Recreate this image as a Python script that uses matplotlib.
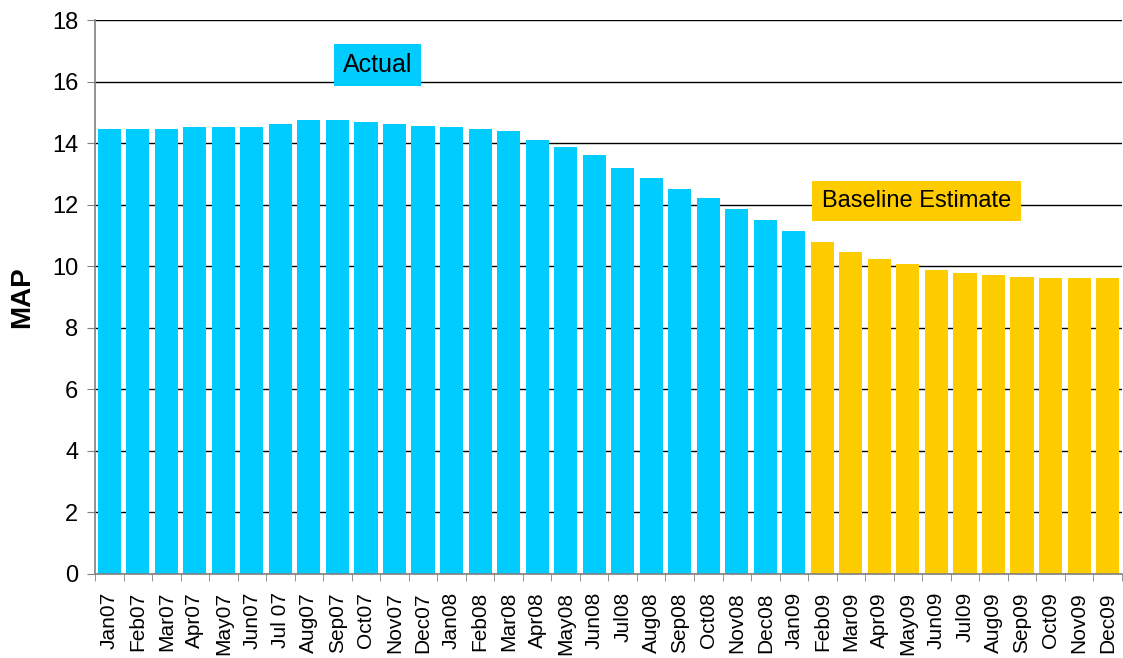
import matplotlib
matplotlib.use("Agg")
import matplotlib.pyplot as plt
import numpy as np

plt.rcParams["font.family"] = ["Liberation Sans", "DejaVu Sans"]

months = ["Jan07", "Feb07", "Mar07", "Apr07", "May07", "Jun07", "Jul 07", "Aug07",
          "Sep07", "Oct07", "Nov07", "Dec07", "Jan08", "Feb08", "Mar08", "Apr08",
          "May08", "Jun08", "Jul08", "Aug08", "Sep08", "Oct08", "Nov08", "Dec08",
          "Jan09", "Feb09", "Mar09", "Apr09", "May09", "Jun09", "Jul09", "Aug09",
          "Sep09", "Oct09", "Nov09", "Dec09"]
actual = [14.45, 14.45, 14.45, 14.52, 14.52, 14.52, 14.61, 14.74, 14.74, 14.68,
          14.61, 14.55, 14.52, 14.45, 14.39, 14.10, 13.88, 13.62, 13.20, 12.88,
          12.51, 12.22, 11.85, 11.49, 11.16]
baseline = [10.80, 10.46, 10.24, 10.08, 9.88, 9.78, 9.71, 9.65, 9.62, 9.62, 9.62]

CYAN = "#00CCFF"
GOLD = "#FFCC00"

fig = plt.figure(figsize=(11.23, 6.58), dpi=100)
ax = fig.add_axes([0.0846, 0.1277, 0.9144, 0.8419])

x_act = np.arange(len(actual))
x_base = np.arange(len(actual), len(actual) + len(baseline))
ax.bar(x_act, actual, width=0.81, color=CYAN, zorder=2)
ax.bar(x_base, baseline, width=0.81, color=GOLD, zorder=2)

ax.set_xlim(-0.5, len(months) - 0.5)
ax.set_ylim(0, 18)
ax.set_yticks(np.arange(0, 19, 2))
ax.yaxis.grid(True, color="black", linewidth=1.0, zorder=1)
ax.set_axisbelow(True)

# category labels at bar centres, tick marks on the boundaries between bars
ax.set_xticks(np.arange(len(months)))
ax.set_xticklabels(months, rotation=90, fontsize=15)
ax.set_xticks(np.arange(len(months) + 1) - 0.5, minor=True)
ax.tick_params(axis="x", which="major", length=0, pad=13)
ax.tick_params(axis="x", which="minor", length=5, color="#808080", direction="out")
ax.tick_params(axis="y", labelsize=17, length=6, color="#808080", pad=6)

for side in ("top", "right"):
    ax.spines[side].set_visible(False)
for side in ("left", "bottom"):
    ax.spines[side].set_color("#808080")
    ax.spines[side].set_linewidth(1.2)

ax.set_ylabel("MAP", fontsize=20, fontweight="bold", labelpad=12)

ax.text(9.4, 16.54, "Actual", fontsize=18, ha="center", va="center",
        bbox=dict(boxstyle="square,pad=0.35", facecolor=CYAN, edgecolor="none"),
        zorder=3)
ax.text(28.3, 12.12, "Baseline Estimate", fontsize=17, ha="center", va="center",
        bbox=dict(boxstyle="square,pad=0.4", facecolor=GOLD, edgecolor="none"),
        zorder=3)

fig.savefig("out.png", dpi=100)
